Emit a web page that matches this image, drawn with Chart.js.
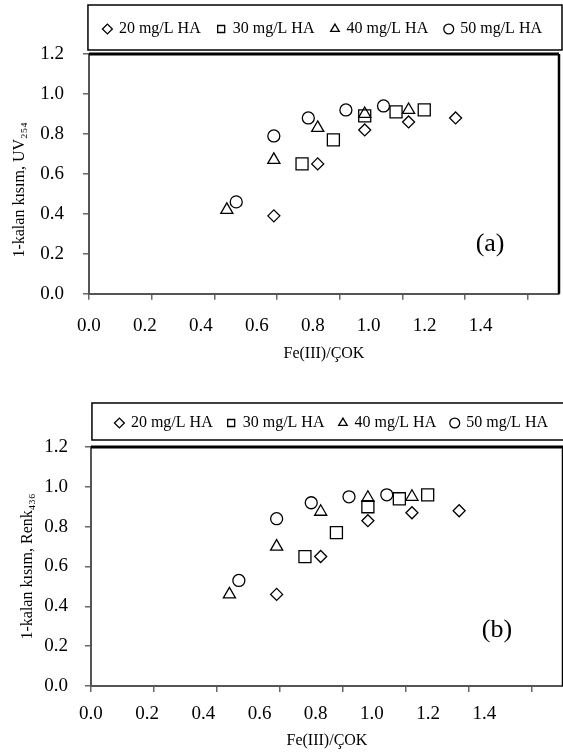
<!DOCTYPE html>
<html>
<head>
<meta charset="utf-8">
<script src="https://cdn.jsdelivr.net/npm/chart.js@4.4.0/dist/chart.umd.min.js"></script>
<style>
  body { margin: 0; background: #fff; }
  canvas { display: block; }
</style>
</head>
<body>
<canvas id="chartA" width="563" height="376"></canvas>
<canvas id="chartB" width="563" height="377"></canvas>
<script>
// series names (HA concentration)
const series = ['20 mg/L HA', '30 mg/L HA', '40 mg/L HA', '50 mg/L HA'];

// Fe(III)/ÇOK doses for each series
const fe20 = [0.59, 0.73, 0.88, 1.02, 1.17];
const fe30 = [0.68, 0.78, 0.88, 0.98, 1.07];
const fe40 = [0.44, 0.59, 0.73, 0.88, 1.02];
const fe50 = [0.47, 0.59, 0.70, 0.82, 0.94];

// (a) 1 - remaining fraction, UV254
const uv20 = [0.39, 0.65, 0.82, 0.86, 0.88];
const uv30 = [0.65, 0.77, 0.89, 0.91, 0.92];
const uv40 = [0.42, 0.67, 0.83, 0.90, 0.92];
const uv50 = [0.46, 0.79, 0.88, 0.92, 0.94];

// (b) 1 - remaining fraction, colour 436
const renk20 = [0.46, 0.65, 0.83, 0.87, 0.88];
const renk30 = [0.65, 0.77, 0.90, 0.94, 0.96];
const renk40 = [0.46, 0.70, 0.875, 0.945, 0.95];
const renk50 = [0.53, 0.84, 0.92, 0.95, 0.96];

// axis ticks
const xTickValues = [0, 0.2, 0.4, 0.6, 0.8, 1.0, 1.2, 1.4];
const yTickValues = [0, 0.2, 0.4, 0.6, 0.8, 1.0, 1.2];

const doses = [fe20, fe30, fe40, fe50];
const markerStyles = ['rectRot', 'rect', 'triangle', 'circle'];
const markerSizes = [6, 8.5, 7, 6];
const serif = "'Liberation Serif', 'Times New Roman', serif";

// legend frame, top/right plot edges and the panel letter
const framePlugin = {
  id: 'frame',
  afterInit(chart, args, opts) {
    // leave a small gap between legend and plot
    const legend = chart.legend;
    const fit = legend.fit;
    legend.fit = function () {
      fit.call(this);
      this.height += opts.gap;
    };
  },
  afterDraw(chart, args, opts) {
    const { ctx, chartArea: a, legend } = chart;
    ctx.save();
    ctx.strokeStyle = '#000';
    ctx.lineWidth = 1.5;
    const bx = a.left + opts.box.left;
    const by = legend.top + opts.box.top;
    ctx.strokeRect(bx, by, chart.width + opts.box.right - bx, legend.bottom - opts.box.bottom - by);

    ctx.lineWidth = 3;
    ctx.beginPath();
    ctx.moveTo(a.left, a.top);
    ctx.lineTo(a.right, a.top);
    ctx.stroke();
    ctx.lineWidth = 2.5;
    ctx.beginPath();
    ctx.moveTo(a.right, a.top);
    ctx.lineTo(a.right, a.bottom);
    ctx.stroke();

    ctx.fillStyle = '#000';
    ctx.font = '26px ' + serif;
    ctx.textAlign = 'center';
    ctx.textBaseline = 'middle';
    ctx.fillText(opts.label, chart.scales.x.getPixelForValue(opts.labelAt[0]),
      chart.scales.y.getPixelForValue(opts.labelAt[1]));
    ctx.restore();
  }
};

function makeChart(id, ys, yTitle, o) {
  const datasets = series.map((name, i) => ({
    label: name,
    data: doses[i].map((x, j) => ({ x: x, y: ys[i][j] })),
    pointStyle: markerStyles[i],
    pointRadius: markerSizes[i],
    pointBorderWidth: 1.3,
    borderColor: '#000',
    backgroundColor: 'rgba(0,0,0,0)',
    showLine: false
  }));

  return new Chart(document.getElementById(id), {
    type: 'scatter',
    data: { datasets: datasets },
    options: {
      responsive: false,
      animation: false,
      layout: { autoPadding: false, padding: { top: o.top, right: o.right, left: 0, bottom: 0 } },
      scales: {
        x: {
          type: 'linear', position: 'bottom', weight: 0,
          min: 0, max: 1.5,
          afterBuildTicks: s => { s.ticks = xTickValues.map(v => ({ value: v })); },
          ticks: { display: false },
          grid: { drawOnChartArea: false, tickLength: 6, color: '#666', lineWidth: 1.5 },
          border: { color: '#555', width: 2 }
        },
        // tick labels of the original sit on a slightly different spacing
        xl: {
          type: 'linear', position: 'bottom', weight: 1,
          min: 0, max: 1.68,
          afterBuildTicks: s => { s.ticks = xTickValues.map(v => ({ value: v })); },
          ticks: { padding: o.xLabelPad, color: '#000', font: { family: serif, size: 19 },
            maxRotation: 0, callback: v => v.toFixed(1) },
          grid: { display: false },
          border: { display: false },
          title: { display: true, text: 'Fe(III)/ÇOK', color: '#000',
            font: { family: serif, size: 16 }, padding: o.xTitlePad }
        },
        y: {
          min: 0, max: 1.2,
          afterBuildTicks: s => { s.ticks = yTickValues.map(v => ({ value: v })); },
          ticks: { padding: o.yTickPad, color: '#000', font: { family: serif, size: 19 },
            callback: v => v.toFixed(1) },
          grid: { drawOnChartArea: false, tickLength: 6, color: '#666', lineWidth: 1.5 },
          border: { color: '#555', width: 2 },
          title: { display: true, text: yTitle, color: '#000',
            font: { family: serif, size: 16 }, padding: o.yTitlePad }
        }
      },
      plugins: {
        legend: {
          position: 'top',
          align: 'end',
          labels: {
            usePointStyle: true, boxWidth: 7, boxHeight: 7,
            padding: o.legendPad, color: '#000',
            font: { family: serif, size: 16 }
          }
        },
        tooltip: { enabled: false },
        frame: { gap: o.gap, box: o.box, label: o.label, labelAt: o.labelAt }
      }
    },
    plugins: [framePlugin]
  });
}

// trailing no-break spaces push the (a) title a little lower, as in the original
makeChart('chartA', [uv20, uv30, uv40, uv50], '1-kalan kısım, UV₂₅₄\u00a0\u00a0\u00a0\u00a0\u00a0\u00a0\u00a0\u00a0', {
  top: 4, right: 4, legendPad: 17, gap: 7,
  yTitlePad: { top: 10, bottom: -8 }, yTickPad: 19,
  xLabelPad: 6.6, xTitlePad: { top: 0, bottom: 13 },
  box: { left: -1, top: 1, right: -1, bottom: 4 },
  label: '(a)', labelAt: [1.28, 0.246]
});

makeChart('chartB', [renk20, renk30, renk40, renk50], '1-kalan kısım, Renk₄₃₆', {
  top: 24, right: 0, legendPad: 15, gap: 6,
  yTitlePad: { top: 18, bottom: -10 }, yTickPad: 17,
  xLabelPad: 2.6, xTitlePad: { top: 2.8, bottom: 3 },
  box: { left: 1, top: 3, right: 2, bottom: 7 },
  label: '(b)', labelAt: [1.29, 0.28]
});
</script>
</body>
</html>
